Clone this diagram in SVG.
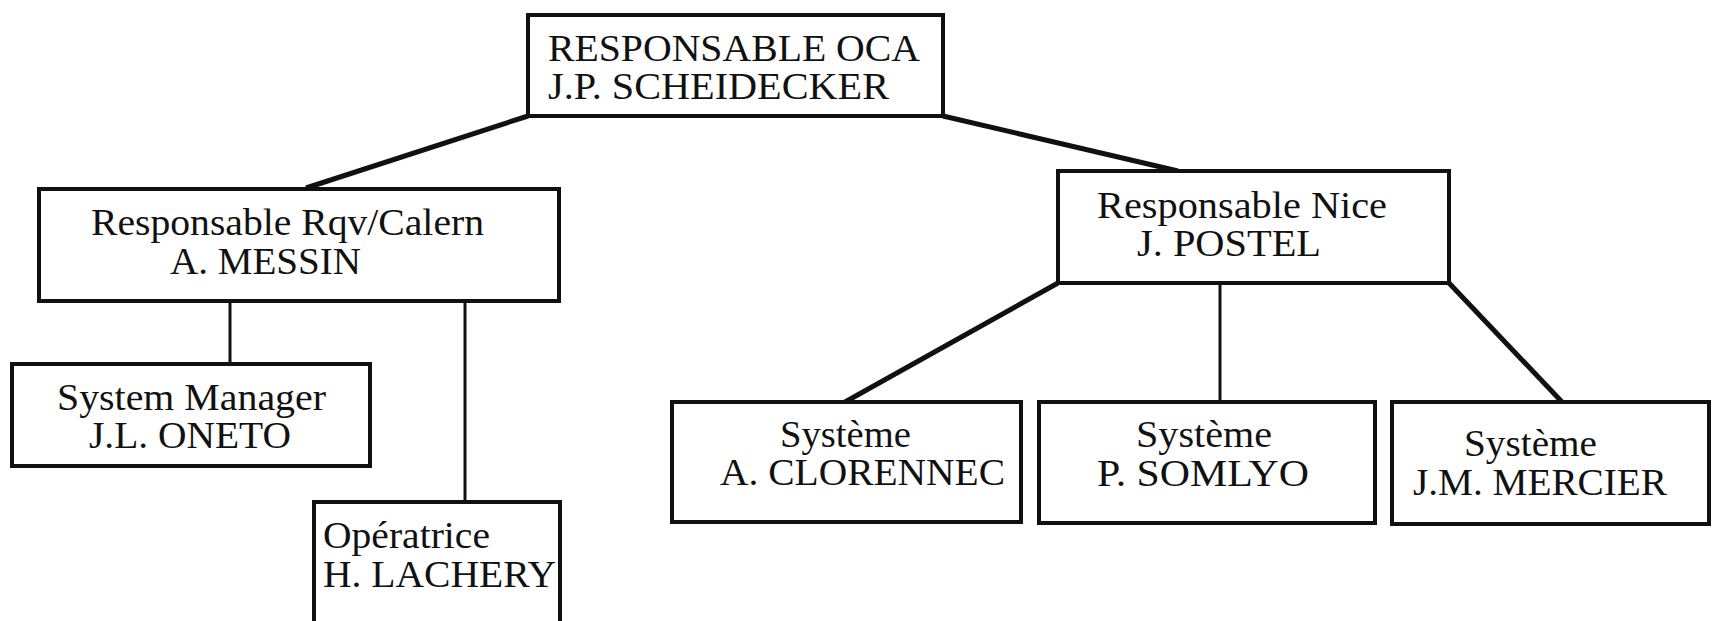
<svg xmlns="http://www.w3.org/2000/svg" width="1721" height="621" viewBox="0 0 1721 621">
<style>
.box{fill:#fff;stroke:#111;stroke-width:4}
.t{font-family:"Liberation Serif","Times New Roman",serif;font-size:37px;fill:#111}
.thick{stroke:#111;stroke-width:5;fill:none}
.thin{stroke:#111;stroke-width:3;fill:none}
</style>
<rect width="1721" height="621" fill="#fff"/>
<g id="connectors">
<line class="thick" x1="528" y1="116" x2="306" y2="188"/>
<line class="thick" x1="943" y1="116" x2="1178" y2="171"/>
<line class="thin" x1="230" y1="301" x2="230" y2="364"/>
<line class="thin" x1="465" y1="301" x2="465" y2="502"/>
<line class="thick" x1="1058" y1="283" x2="845" y2="402"/>
<line class="thin" x1="1220" y1="283" x2="1220" y2="402"/>
<line class="thick" x1="1449" y1="283" x2="1562" y2="402"/>
</g>
<g id="oca">
<rect class="box" x="528" y="15" width="415" height="101"/>
<text class="t" x="548" y="61" textLength="372" lengthAdjust="spacingAndGlyphs">RESPONSABLE OCA</text>
<text class="t" x="548" y="99" textLength="341" lengthAdjust="spacingAndGlyphs">J.P. SCHEIDECKER</text>
</g>
<g id="calern">
<rect class="box" x="39" y="189" width="520" height="112"/>
<text class="t" x="91" y="235" textLength="393" lengthAdjust="spacingAndGlyphs">Responsable Rqv/Calern</text>
<text class="t" x="170" y="274" textLength="191" lengthAdjust="spacingAndGlyphs">A. MESSIN</text>
</g>
<g id="nice">
<rect class="box" x="1058" y="171" width="391" height="112"/>
<text class="t" x="1097" y="218" textLength="290" lengthAdjust="spacingAndGlyphs">Responsable Nice</text>
<text class="t" x="1137" y="256" textLength="184" lengthAdjust="spacingAndGlyphs">J. POSTEL</text>
</g>
<g id="oneto">
<rect class="box" x="12" y="364" width="358" height="102"/>
<text class="t" x="57" y="410" textLength="269" lengthAdjust="spacingAndGlyphs">System Manager</text>
<text class="t" x="89" y="448" textLength="202" lengthAdjust="spacingAndGlyphs">J.L. ONETO</text>
</g>
<g id="lachery">
<rect class="box" x="314" y="502" width="246" height="130"/>
<text class="t" x="323" y="548" textLength="167" lengthAdjust="spacingAndGlyphs">Opératrice</text>
<text class="t" x="323" y="587" textLength="233" lengthAdjust="spacingAndGlyphs">H. LACHERY</text>
</g>
<g id="clorennec">
<rect class="box" x="672" y="402" width="349" height="120"/>
<text class="t" x="780" y="447" textLength="131" lengthAdjust="spacingAndGlyphs">Système</text>
<text class="t" x="720" y="485" textLength="285" lengthAdjust="spacingAndGlyphs">A. CLORENNEC</text>
</g>
<g id="somlyo">
<rect class="box" x="1039" y="402" width="336" height="121"/>
<text class="t" x="1136" y="447" textLength="136" lengthAdjust="spacingAndGlyphs">Système</text>
<text class="t" x="1097" y="486" textLength="212" lengthAdjust="spacingAndGlyphs">P. SOMLYO</text>
</g>
<g id="mercier">
<rect class="box" x="1392" y="402" width="317" height="122"/>
<text class="t" x="1464" y="456" textLength="133" lengthAdjust="spacingAndGlyphs">Système</text>
<text class="t" x="1413" y="495" textLength="254" lengthAdjust="spacingAndGlyphs">J.M. MERCIER</text>
</g>
</svg>
